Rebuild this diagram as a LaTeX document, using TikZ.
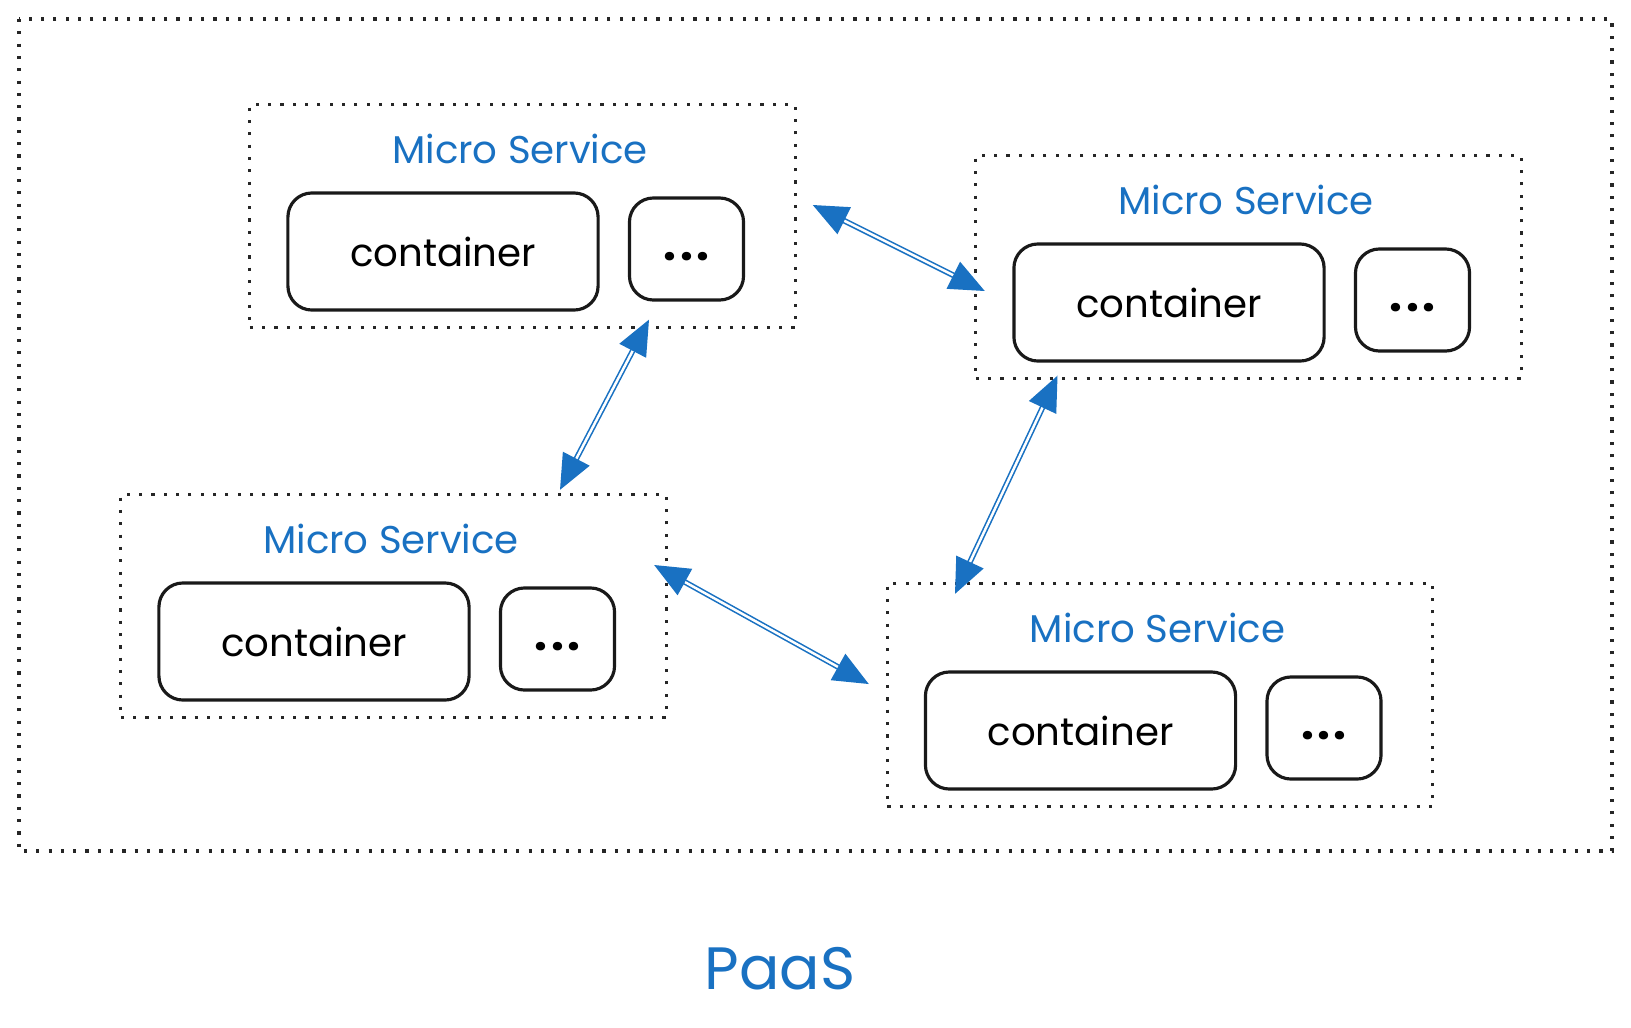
\documentclass[tikz,border=0pt]{standalone}
\usepackage{fontspec}
\setmainfont{Poppins}
\usepackage{tikz}
\usetikzlibrary{arrows.meta}
\definecolor{sketchblue}{RGB}{25,113,194}

\begin{document}
\begin{tikzpicture}[x=0.01cm,y=-0.01cm]
\tikzstyle{dotbox}=[draw=black!85,line width=0.9pt,dash pattern=on 0.9pt off 2.6pt]
\tikzstyle{service}=[dotbox,minimum width=5.45cm,minimum height=2.23cm,inner sep=0pt]
\tikzstyle{title}=[text=sketchblue,font=\fontsize{11}{13}\selectfont,inner sep=0pt]
\tikzstyle{cont}=[draw=black!90,line width=0.9pt,rounded corners=0.24cm,minimum width=3.1cm,minimum height=1.17cm,inner sep=0pt,font=\fontsize{11}{13}\selectfont]
\tikzstyle{more}=[cont,minimum width=1.14cm,minimum height=1.02cm,font=\fontsize{13}{15}\bfseries]
\tikzstyle{flow}=[sketchblue,line width=0.45pt,double=white,double distance=0.7pt,{Triangle[length=10pt,width=8.5pt]}-{Triangle[length=10pt,width=8.5pt]}]
\useasboundingbox (0,0) rectangle (1631,1027);
% platform
\draw [dotbox] (19,19) rectangle (1612,851);
\node [text=sketchblue,font=\fontsize{17}{20}\selectfont,inner sep=0pt] (paas) at (780,969) {PaaS};
% top left service
\node [service] (ms1) at (522.5,216) {};
\node [title] (t1) at (520,149) {Micro Service};
\node [cont] (c1) at (443,251.5) {container};
\node [more] (d1) at (686.5,249) {\smash{\raisebox{-3.2pt}{.\kern1pt.\kern1pt.}}};
% top right service
\node [service] (ms2) at (1248.5,267) {};
\node [title] (t2) at (1246,200) {Micro Service};
\node [cont] (c2) at (1169,302.5) {container};
\node [more] (d2) at (1412.5,300) {\smash{\raisebox{-3.2pt}{.\kern1pt.\kern1pt.}}};
% bottom left service
\node [service] (ms3) at (393.5,606) {};
\node [title] (t3) at (391,539) {Micro Service};
\node [cont] (c3) at (314,641.5) {container};
\node [more] (d3) at (557.5,639) {\smash{\raisebox{-3.2pt}{.\kern1pt.\kern1pt.}}};
% bottom right service
\node [service] (ms4) at (1160,695) {};
\node [title] (t4) at (1157.5,628) {Micro Service};
\node [cont] (c4) at (1080.5,730.5) {container};
\node [more] (d4) at (1324,728) {\smash{\raisebox{-3.2pt}{.\kern1pt.\kern1pt.}}};
% calls between services
\draw [flow] ([shift={(16,-11)}]ms1.east) -- ([shift={(10.5,24)}]ms2.west);
\draw [flow] ([shift={(-37.5,18)}]d1.south) -- ([shift={(166.5,-3)}]ms3.north);
\draw [flow] ([shift={(-111.5,13)}]c2.south) -- ([shift={(-205,12)}]ms4.north);
\draw [flow] ([shift={(-13.6,-41)}]ms3.east) -- ([shift={(-17,-11)}]ms4.west);
\end{tikzpicture}
\end{document}
